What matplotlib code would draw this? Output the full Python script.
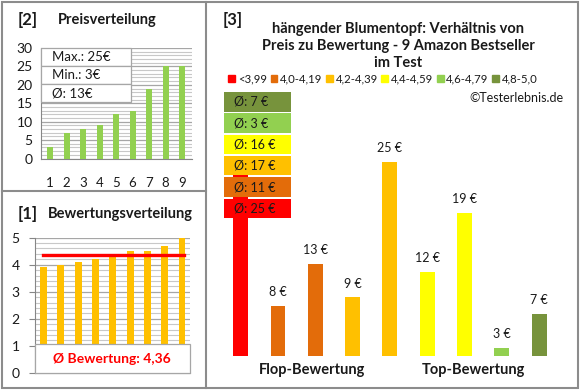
import numpy as np
import matplotlib
matplotlib.use("Agg")
import matplotlib.pyplot as plt
from matplotlib.patches import Rectangle, Patch
from matplotlib.ticker import MultipleLocator

plt.rcParams['font.family'] = ['Lato', 'DejaVu Sans']

# Daten
preise_sortiert = [3, 7, 8, 9, 12, 13, 19, 25, 25]
bewertungen = [3.9, 4.0, 4.1, 4.2, 4.3, 4.5, 4.5, 4.7, 5.0]
preise_nach_bewertung = [25, 8, 13, 9, 25, 12, 19, 3, 7]
klasse_nach_bewertung = [0, 1, 1, 2, 2, 3, 3, 4, 5]
klassen = ["<3,99", "4,0-4,19", "4,2-4,39", "4,4-4,59", "4,6-4,79", "4,8-5,0"]
klassen_farben = ["#FF0000", "#E36C0A", "#FFC000", "#FFFF00", "#92D050", "#77933C"]
klassen_mittel = [25, 11, 17, 16, 3, 7]

W, H = 580, 390
fig = plt.figure(figsize=(W/100, H/100), dpi=100)

def rect(x0, y0, x1, y1):
	return [x0/W, 1 - y1/H, (x1 - x0)/W, (y1 - y0)/H]

grau = "#868686"
grau_hell = "#C8C8C8"
txt = "#1A1A1A"

#Panel [2] Preisverteilung
ax2 = fig.add_axes(rect(41, 48, 192, 158.5))
x = np.arange(1, 10)
ax2.bar(x, preise_sortiert, width=0.36, color="#92D050", zorder=3)
ax2.set_xlim(0.45, 9.6) ; ax2.set_ylim(0, 30)
ax2.yaxis.set_major_locator(MultipleLocator(5))
ax2.yaxis.set_minor_locator(MultipleLocator(1))
ax2.grid(axis="y", which="minor", color=grau_hell, lw=0.8, zorder=0)
ax2.grid(axis="y", which="major", color="#A6A6A6", lw=0.9, zorder=1)
ax2.set_xticks(x)
ax2.tick_params(axis="x", length=0, pad=13, labelsize=9.5, labelcolor=txt)
ax2.tick_params(axis="y", which="both", length=0, pad=6, labelsize=10, labelcolor=txt)
for s in ["top", "right"]:
	ax2.spines[s].set_visible(False)
ax2.spines["left"].set_color(grau) ; ax2.spines["bottom"].set_color(grau)

#Panel [1] Bewertungsverteilung
ax1 = fig.add_axes(rect(35, 237.7, 190, 372.7))
ax1.bar(x, bewertungen, width=0.4, color="#FFC000", zorder=3)
mittel = np.mean(bewertungen)
ax1.plot([0.95, 9.12], [mittel, mittel], color="#FF0000", lw=2.4, zorder=4)
ax1.set_xlim(0.51, 9.46) ; ax1.set_ylim(0, 5)
ax1.yaxis.set_major_locator(MultipleLocator(1))
ax1.yaxis.set_minor_locator(MultipleLocator(0.2))
ax1.grid(axis="y", which="minor", color=grau_hell, lw=0.8, zorder=0)
ax1.grid(axis="y", which="major", color="#A6A6A6", lw=0.9, zorder=1)
ax1.set_xticks([])
ax1.tick_params(axis="y", which="major", length=4, color=grau, pad=7, labelsize=10, labelcolor=txt)
ax1.tick_params(axis="y", which="minor", length=0)
for s in ["top", "right"]:
	ax1.spines[s].set_visible(False)
ax1.spines["left"].set_color(grau) ; ax1.spines["bottom"].set_color(grau)

#Panel [3] Preis zu Bewertung
ax3 = fig.add_axes(rect(210, 90, 575, 355.7))
pos = np.arange(1, 10)
farben = [klassen_farben[k] for k in klasse_nach_bewertung]
ax3.bar(pos, preise_nach_bewertung, width=0.4, color=farben, zorder=2)
for i, (p, v) in enumerate(zip(pos, preise_nach_bewertung)):
	if i == 0:
		continue
	ax3.annotate(f"{v} €", (p, v), xytext=(0, 10), textcoords="offset points",
		ha="center", va="center", fontsize=9, color=txt)
y_min = 2.1
ax3.set_xlim(0.178, 9.96) ; ax3.set_ylim(y_min, y_min + 265.7/8.45)
ax3.axis("off")
ax3.text(2.9, y_min - 1.7, "Flop-Bewertung", ha="center", va="center", fontsize=10.5,
	fontweight="bold", color=txt)
ax3.text(7.25, y_min - 1.7, "Top-Bewertung", ha="center", va="center", fontsize=10.5,
	fontweight="bold", color=txt)

handles = [Patch(color=c, label=l) for c, l in zip(klassen_farben, klassen)]
fig.legend(handles=handles, loc="center", bbox_to_anchor=(383/W, 1 - 79/H), ncol=6,
	fontsize=8.2, handlelength=0.6, handleheight=0.6, handletextpad=0.25,
	columnspacing=0.3, frameon=False, borderpad=0, labelcolor=txt)

#Overlay fuer Rahmen, Texte und Kaesten
ov = fig.add_axes([0, 0, 1, 1], zorder=10)
ov.set_xlim(0, W) ; ov.set_ylim(H, 0)
ov.axis("off") ; ov.patch.set_alpha(0)

rahmen = "#8C8C8C"
ov.add_patch(Rectangle((1.5, 1.5), 576.5, 386, fill=False, ec=rahmen, lw=1.5))
ov.plot([205.5, 205.5], [1.5, 387.5], color=rahmen, lw=1.5)
ov.plot([1.5, 205.5], [191, 191], color=rahmen, lw=1.5)

ov.text(18, 20, "[2]", fontsize=12, fontweight="bold", va="center", color=txt)
ov.text(58, 20, "Preisverteilung", fontsize=10.5, fontweight="bold", va="center", color=txt)
ov.text(18, 214, "[1]", fontsize=12, fontweight="bold", va="center", color=txt)
ov.text(48, 214, "Bewertungsverteilung", fontsize=10.5, fontweight="bold", va="center", color=txt)
ov.text(223, 20, "[3]", fontsize=12, fontweight="bold", va="center", color=txt)
ov.text(398, 46, "hängender Blumentopf: Verhältnis von\nPreis zu Bewertung - 9 Amazon Bestseller\nim Test",
	fontsize=10.5, fontweight="bold", ha="center", va="center", linespacing=1.3, color=txt)
ov.text(563, 98, "©Testerlebnis.de", fontsize=9, ha="right", va="center", color=txt)

# Tabelle Max/Min/Mittel
tabelle = [f"Max.: {max(preise_sortiert)}€", f"Min.: {min(preise_sortiert)}€",
	f"Ø: {round(np.mean(preise_sortiert))}€"]
for i, t in enumerate(tabelle):
	y0 = 48 + i*18
	ov.add_patch(Rectangle((41, y0), 90, 18, fc="white", ec="#A6A6A6", lw=0.9))
	ov.text(52, y0 + 9, t, fontsize=9.5, va="center", color=txt)

# Kasten Mittelwert Bewertung
ov.add_patch(Rectangle((35, 344), 155, 29, fc="white", ec="#A6A6A6", lw=0.9))
ov.text(112, 359, "Ø Bewertung: " + f"{mittel:.2f}".replace(".", ","), fontsize=10,
	fontweight="bold", color="#FF0000", ha="center", va="center")

# Kaesten Durchschnittspreis je Klasse (oben beste Klasse)
for j, k in enumerate(range(5, -1, -1)):
	y0 = 92 + j*21.3
	ov.add_patch(Rectangle((224, y0), 67, 19.5, fc=klassen_farben[k], ec="none"))
	ov.text(234, y0 + 10, f"Ø: {klassen_mittel[k]} €", fontsize=9, va="center", color=txt)

fig.savefig("out.png", dpi=100)
